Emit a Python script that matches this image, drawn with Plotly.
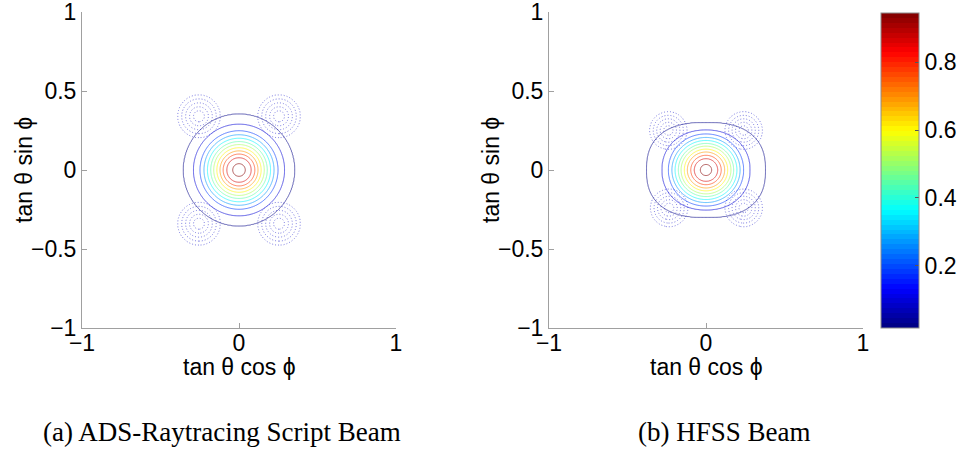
import numpy as np
import plotly.graph_objects as go

# ---------------- data ----------------
# contour levels (evenly spaced, as drawn) and colour range of the colorbar
levels = [0.0880, 0.1594, 0.2308, 0.3022, 0.3736, 0.4450, 0.5164, 0.5878, 0.6592, 0.7306, 0.8020, 0.8734]
z_peak = 0.945
z_floor = 0.017

# (a) ADS-Raytracing beam: ring radius (tan-theta units) of each level above
left_ring_radius = [0.354, 0.290, 0.248, 0.223, 0.201, 0.180, 0.161, 0.141, 0.121, 0.101, 0.078, 0.040]

# (b) HFSS beam: rings are slightly squarish/elliptical
right_ring_rx = [0.378, 0.280, 0.239, 0.217, 0.197, 0.176, 0.159, 0.138, 0.119, 0.097, 0.075, 0.036]
right_ring_ry = [0.300, 0.253, 0.228, 0.206, 0.187, 0.168, 0.151, 0.132, 0.114, 0.093, 0.072, 0.035]
right_ring_shape = [2.5, 2.15, 2.05, 2.0, 2.0, 2.0, 2.0, 2.0, 2.0, 2.0, 2.0, 2.0]

# cross-pol lobes (dotted): centres and ring radii
lobe_levels = [0.010, 0.020, 0.030, 0.040, 0.050]
left_lobe_cx = [-0.255, 0.255, -0.255, 0.255]
left_lobe_cy = [0.340, 0.340, -0.340, -0.340]
left_lobe_radius = [0.135, 0.110, 0.085, 0.060, 0.035]
right_lobe_cx = [-0.240, 0.240, -0.235, 0.240]
right_lobe_cy = [0.250, 0.250, -0.240, -0.240]
right_lobe_radius = [0.118, 0.096, 0.074, 0.052, 0.030]

x_ticks = [-1, 0, 1]
y_ticks = [-1, -0.5, 0, 0.5, 1]
cbar_ticks = [0.2, 0.4, 0.6, 0.8]

# ---------------- build fields from the read-off rings ----------------
g = np.linspace(-0.6, 0.6, 241)
X, Y = np.meshgrid(g, g)
R = np.hypot(X, Y)
TH = np.arctan2(Y, X)
C, S = np.abs(np.cos(TH)), np.abs(np.sin(TH))

vals = np.array([z_peak] + levels[::-1] + [z_floor])


def ring_field(ring_r):
    rr = ring_r[::-1]
    Rs = np.concatenate([np.zeros((1,) + R.shape), rr, np.full((1,) + R.shape, 0.6)], axis=0)
    idx = np.sum(Rs[1:] <= R[None], axis=0)
    idx = np.clip(idx, 0, len(vals) - 2)
    r0 = np.take_along_axis(Rs, idx[None], 0)[0]
    r1 = np.take_along_axis(Rs, idx[None] + 1, 0)[0]
    v0 = vals[idx]
    v1 = vals[idx + 1]
    t = np.clip((R - r0) / np.maximum(r1 - r0, 1e-9), 0, 1)
    return v0 + t * (v1 - v0)


left_rings = np.array([np.full(R.shape, r) for r in left_ring_radius])
z_left = ring_field(left_rings)

right_rings = np.array([
    1.0 / ((C / ax) ** p + (S / ay) ** p) ** (1.0 / p)
    for ax, ay, p in zip(right_ring_rx, right_ring_ry, right_ring_shape)
])
z_right = ring_field(right_rings)


def lobe_field(cxs, cys, radii):
    lv = np.array([0.0] + lobe_levels + [0.06])
    rr = np.array([0.2] + radii + [0.0])[::-1]
    lvv = lv[::-1]
    out = np.zeros(R.shape)
    for cx, cy in zip(cxs, cys):
        d = np.hypot(X - cx, Y - cy)
        out = np.maximum(out, np.interp(d, rr, lvv))
    return out


zl_left = lobe_field(left_lobe_cx, left_lobe_cy, left_lobe_radius)
zl_right = lobe_field(right_lobe_cx, right_lobe_cy, right_lobe_radius)


# MATLAB jet(64) colour map (stepped)
def jet(v):
    r = np.clip(np.minimum(4 * v - 1.5, -4 * v + 4.5), 0, 1)
    gg = np.clip(np.minimum(4 * v - 0.5, -4 * v + 3.5), 0, 1)
    b = np.clip(np.minimum(4 * v + 0.5, -4 * v + 2.5), 0, 1)
    return "rgb(%d,%d,%d)" % (round(r * 255), round(gg * 255), round(b * 255))


n = 64
jet_scale = []
for i in range(n):
    c = jet((i + 0.5) / n)
    jet_scale.append([i / n, c])
    jet_scale.append([(i + 1) / n, c])

step = levels[1] - levels[0]

fig = go.Figure()
for z, zl, xa, ya in [(z_left, zl_left, "x", "y"), (z_right, zl_right, "x2", "y2")]:
    fig.add_trace(go.Contour(
        x=g, y=g, z=zl, xaxis=xa, yaxis=ya,
        autocontour=False,
        contours=dict(start=lobe_levels[0], end=lobe_levels[-1], size=lobe_levels[1] - lobe_levels[0], coloring="none"),
        line=dict(color="rgb(120,120,225)", dash="1px,2px", width=1),
        showscale=False, hoverinfo="skip",
    ))
    fig.add_trace(go.Contour(
        x=g, y=g, z=z, xaxis=xa, yaxis=ya,
        autocontour=False,
        contours=dict(start=levels[0], end=levels[-1] + step / 4, size=step, coloring="lines"),
        colorscale=jet_scale, zmin=z_floor, zmax=z_peak, zauto=False,
        line=dict(width=0.9), opacity=0.7,
        showscale=False, hoverinfo="skip",
    ))

# colorbar carrier
fig.add_trace(go.Scatter(
    x=[0, 0], y=[0, 0], mode="markers", xaxis="x2", yaxis="y2",
    marker=dict(size=1, opacity=0, color=[z_floor, z_peak], colorscale=jet_scale,
                cmin=z_floor, cmax=z_peak, showscale=True,
                colorbar=dict(x=881 / 960, xanchor="left", xpad=0, ypad=0,
                              y=(451 - 328) / 451, yanchor="bottom",
                              lenmode="pixels", len=315, thicknessmode="pixels", thickness=38,
                              outlinewidth=1, outlinecolor="#8c8c8c",
                              tickvals=cbar_ticks, ticktext=[str(t) for t in cbar_ticks],
                              ticks="inside", ticklen=4, tickcolor="#555555",
                              tickfont=dict(family="Liberation Sans, Arial", size=23, color="black"))),
    showlegend=False, hoverinfo="skip",
))

axis_common = dict(range=[-1, 1], showgrid=False, zeroline=False, showline=True,
                   linecolor="#a0a0a0", linewidth=1, ticks="inside", ticklen=5,
                   tickcolor="#a0a0a0", mirror=False, automargin=False,
                   ticklabeloverflow="allow",
                   tickfont=dict(family="Liberation Sans, Arial", size=23, color="black"))
ydom = [(451 - 328) / 451, (451 - 12) / 451]
fig.update_layout(
    template="none",
    width=960, height=451, margin=dict(l=0, r=0, t=0, b=0, pad=0, autoexpand=False),
    paper_bgcolor="white", plot_bgcolor="white", showlegend=False,
    xaxis=dict(domain=[82 / 960, 396 / 960], tickvals=x_ticks, anchor="y", ticklabelstandoff=-6, **axis_common),
    yaxis=dict(domain=ydom, tickvals=y_ticks, anchor="x", **axis_common),
    xaxis2=dict(domain=[549 / 960, 863 / 960], tickvals=x_ticks, anchor="y2", ticklabelstandoff=-6, **axis_common),
    yaxis2=dict(domain=ydom, tickvals=y_ticks, anchor="x2", **axis_common),
)

sans = dict(family="Liberation Sans, Arial", size=23, color="black")
serif = dict(family="Liberation Serif, Times New Roman", size=27, color="black")
ann = [
    dict(x=239 / 960, y=(451 - 367) / 451, text="tan θ cos ϕ", font=sans),
    dict(x=706 / 960, y=(451 - 367) / 451, text="tan θ cos ϕ", font=sans),
    dict(x=24 / 960, y=(451 - 170) / 451, text="tan θ sin ϕ", font=sans, textangle=-90),
    dict(x=491 / 960, y=(451 - 170) / 451, text="tan θ sin ϕ", font=sans, textangle=-90),
    dict(x=222 / 960, y=(451 - 432) / 451, text="(a) ADS-Raytracing Script Beam", font=serif),
    dict(x=724 / 960, y=(451 - 432) / 451, text="(b) HFSS Beam", font=serif),
]
for a in ann:
    fig.add_annotation(xref="paper", yref="paper", showarrow=False,
                       xanchor="center", yanchor="middle", **a)

fig.write_html("out.html")
